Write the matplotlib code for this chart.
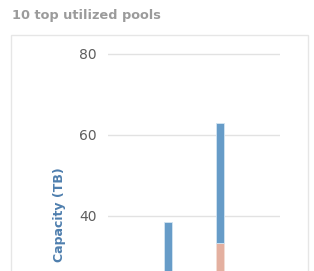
import matplotlib.pyplot as plt
from matplotlib.patches import Rectangle

# visible pools (x positions on a 4-slot axis), values in TB
positions = [1, 2]
used = [0, 33.3]
total = [38.3, 62.9]
free = [t - u for t, u in zip(total, used)]
yticks = [40, 60, 80]

fig = plt.figure(figsize=(3.14, 2.71), dpi=100)
W, H = 314, 271

# panel border
fig.patches.append(Rectangle((11 / W, -0.1), (308 - 11) / W, 1.1 - 34.5 / H,
                             transform=fig.transFigure, fill=False,
                             edgecolor='#e6e6e6', lw=1.0))

fig.text(12 / W, 1 - 16 / H, "10 top utilized pools", fontsize=9.3,
         fontweight='bold', color='#9b9b9b', va='center', ha='left')

top_px = 53.5 - 4.05
ax = fig.add_axes([108 / W, 1 - 377.5 / H, (280 - 108) / W, (377.5 - top_px) / H])
ax.bar(positions, used, width=0.16, color='#e4b0a0', edgecolor='#f3ddd5', lw=0.6)
ax.bar(positions, free, bottom=used, width=0.16, color='#679cc8',
       edgecolor='#d4e5f2', lw=0.6)

ax.set_xlim(-0.154, 3.154)
ax.set_ylim(0, 81)
ax.set_yticks(yticks)
ax.set_xticks([])
ax.tick_params(axis='y', length=0, pad=8, labelsize=10, labelcolor='#5e5e5e')
ax.grid(axis='y', color='#e2e2e2', lw=1.0)
ax.set_axisbelow(True)
for s in ax.spines.values():
    s.set_visible(False)

fig.text(60 / W, 1 - 214.5 / H, "Capacity (TB)", rotation=90, fontsize=9,
         fontweight='bold', color='#4f7fae', ha='center', va='center')

fig.savefig("out.png", dpi=100)
